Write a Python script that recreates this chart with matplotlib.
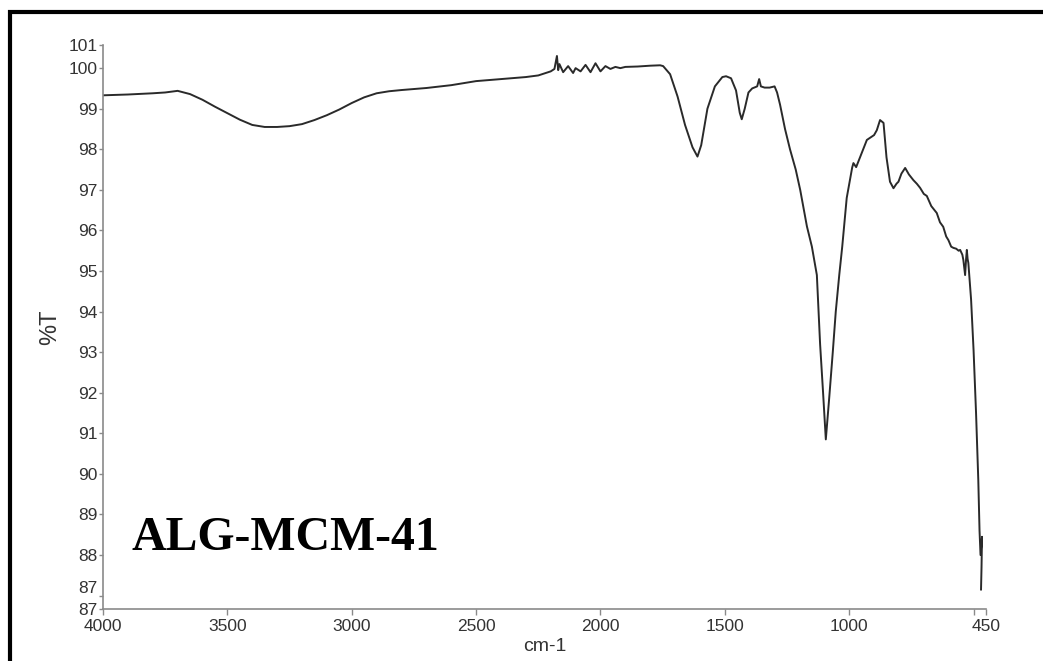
import matplotlib
matplotlib.use("Agg")
import matplotlib.pyplot as plt
from matplotlib.patches import Rectangle

# FTIR spectrum of ALG-MCM-41
wavenumber = [4000, 3900, 3800, 3750, 3700, 3650, 3600, 3550, 3500, 3450,
              3400, 3350, 3300, 3250, 3200, 3150, 3100, 3050, 3000, 2950,
              2900, 2850, 2800, 2700, 2600, 2500, 2400, 2300, 2250, 2220,
              2200, 2185, 2175, 2170, 2165, 2150, 2130, 2110, 2100, 2080,
              2060, 2040, 2020, 2000, 1980, 1960, 1940, 1920, 1900, 1850,
              1800, 1760, 1748, 1720, 1690, 1660, 1630, 1610, 1595, 1570,
              1540, 1510, 1495, 1475, 1455, 1440, 1432, 1420, 1405, 1390,
              1370, 1362, 1355, 1340, 1320, 1300, 1290, 1278, 1258, 1238,
              1215, 1197, 1170, 1150, 1130, 1117, 1105, 1094, 1080, 1066,
              1054, 1040, 1028, 1010, 988, 983, 972, 950, 929, 900,
              889, 876, 862, 850, 836, 822, 810, 802, 790, 775,
              760, 742, 728, 715, 700, 688, 670, 648, 635, 622,
              610, 601, 590, 581, 570, 560, 554, 545, 541, 534,
              530, 527, 524, 521, 510, 500, 490, 481, 476, 472,
              466, 468, 470]
transmittance = [99.33, 99.35, 99.38, 99.40, 99.44, 99.36, 99.22, 99.05, 98.89, 98.73,
                 98.60, 98.55, 98.55, 98.57, 98.62, 98.72, 98.84, 98.98, 99.14, 99.28,
                 99.38, 99.43, 99.46, 99.51, 99.58, 99.68, 99.73, 99.78, 99.82, 99.88,
                 99.92, 99.98, 100.30, 99.95, 100.10, 99.90, 100.05, 99.88, 100.00, 99.92,
                 100.08, 99.90, 100.12, 99.92, 100.05, 99.98, 100.03, 100.00, 100.03, 100.04,
                 100.06, 100.07, 100.05, 99.85, 99.30, 98.60, 98.05, 97.82, 98.10, 99.00,
                 99.55, 99.78, 99.80, 99.75, 99.45, 98.90, 98.74, 99.00, 99.40, 99.50,
                 99.55, 99.73, 99.55, 99.52, 99.52, 99.55, 99.40, 99.10, 98.50, 98.00,
                 97.50, 97.00, 96.10, 95.60, 94.90, 93.20, 92.00, 90.85, 91.90, 93.00,
                 94.00, 94.90, 95.60, 96.80, 97.55, 97.66, 97.56, 97.90, 98.23, 98.35,
                 98.47, 98.72, 98.65, 97.80, 97.20, 97.04, 97.15, 97.20, 97.40, 97.54,
                 97.38, 97.24, 97.15, 97.05, 96.90, 96.85, 96.60, 96.43, 96.20, 96.09,
                 95.85, 95.76, 95.60, 95.57, 95.55, 95.50, 95.52, 95.40, 95.27, 94.90,
                 95.30, 95.52, 95.30, 95.20, 94.30, 93.05, 91.50, 89.85, 88.60, 88.00,
                 88.45, 87.70, 87.15]

x_ticks = [4000, 3500, 3000, 2500, 2000, 1500, 1000, 500, 450]
x_labels = ["4000", "3500", "3000", "2500", "2000", "1500", "1000", "", "450"]
y_ticks = [86.67, 87.0, 88, 89, 90, 91, 92, 93, 94, 95, 96, 97, 98, 99, 100, 100.57]
y_labels = ["87", "87", "88", "89", "90", "91", "92", "93", "94", "95", "96",
            "97", "98", "99", "100", "101"]

W, H = 1043, 661
fig = plt.figure(figsize=(W / 100, H / 100), dpi=100)
ax = fig.add_axes([103 / W, 1 - 609 / H, (986 - 103) / W, (609 - 45) / H])

ax.plot(wavenumber, transmittance, color="#2a2a2a", lw=1.4)

ax.set_xlim(4000, 450)
ax.set_ylim(86.67, 100.57)

for side in ["top", "right"]:
    ax.spines[side].set_visible(False)
for side in ["left", "bottom"]:
    ax.spines[side].set_color("#8a8a8a")
    ax.spines[side].set_linewidth(1.2)

tick_font = {"family": "Liberation Sans", "size": 12.5}
ax.set_xticks(x_ticks)
ax.set_xticklabels(x_labels, fontdict=tick_font, color="#333333")
ax.set_yticks(y_ticks)
ax.set_yticklabels(y_labels, fontdict=tick_font, color="#333333")
ax.tick_params(axis="x", direction="out", length=4, width=1, color="#8a8a8a", pad=3)
ax.tick_params(axis="y", direction="out", length=3, width=1, color="#8a8a8a", pad=1)
ax.get_yticklabels()[1].set_va("bottom")

ax.set_xlabel("cm-1", family="Liberation Sans", fontsize=14, color="#333333", labelpad=3)
ax.set_ylabel("%T", family="Liberation Sans", fontsize=17, color="#333333", labelpad=5)

fig.text(131.7 / W, 1 - 550 / H, "ALG-MCM-41", family="Liberation Serif",
         fontweight="bold", fontsize=34.4, va="baseline", ha="left", color="black")

# heavy frame around the figure
fig.patches.append(Rectangle((9.5 / W, -0.1), 1.2, 1.1 - 12 / H, transform=fig.transFigure,
                             fill=False, edgecolor="black", linewidth=3, zorder=10))

fig.savefig("out.png", dpi=100)
